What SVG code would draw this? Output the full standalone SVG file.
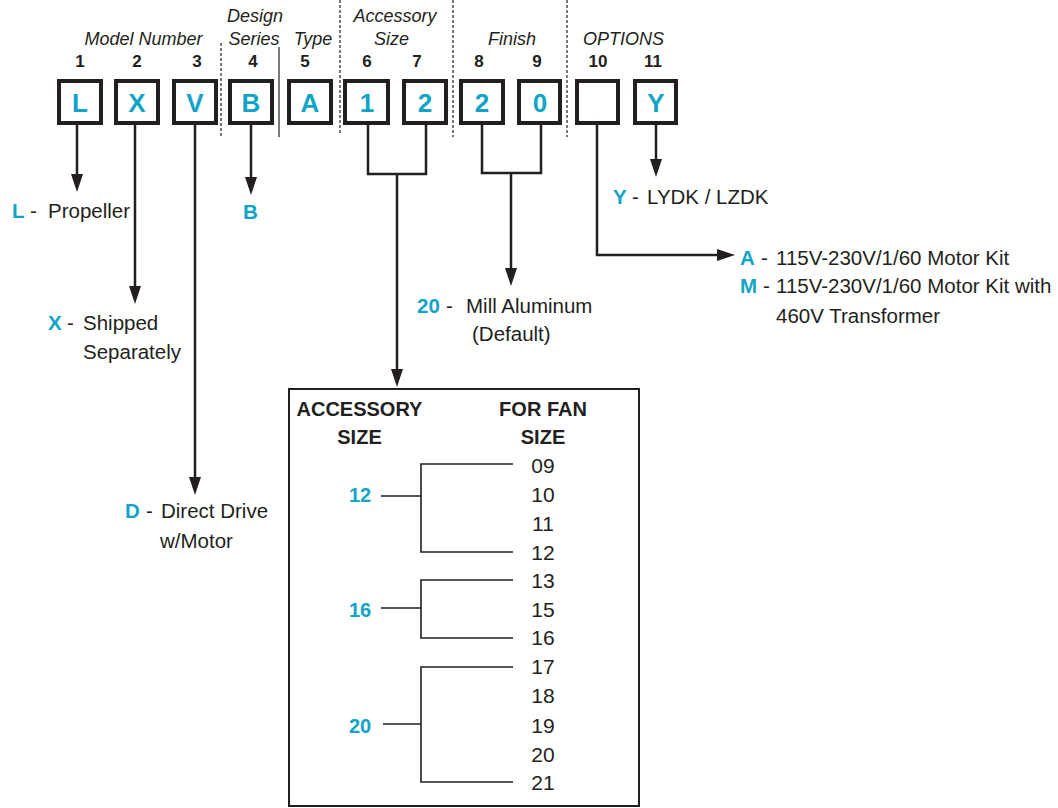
<svg xmlns="http://www.w3.org/2000/svg" width="1058" height="808" viewBox="0 0 1058 808">
<style>
text{font-family:"Liberation Sans",Arial,sans-serif;fill:#231f20}
.it{font-style:italic;font-size:18px;text-anchor:middle}
.num{font-weight:bold;font-size:17px;text-anchor:middle}
.box{fill:#fff;stroke:#231f20;stroke-width:4}
.bl{font-weight:bold;font-size:26px;fill:#12a4c6;text-anchor:middle}
.c{font-weight:bold;font-size:20.5px;fill:#12a4c6}
.t{font-size:20.5px}
.th{font-weight:bold;font-size:20px;text-anchor:middle}
.fn{font-size:21px;text-anchor:middle}
.cn{font-weight:bold;font-size:20px;fill:#12a4c6;text-anchor:middle}
.dash{stroke:#231f20;stroke-width:1.2;stroke-dasharray:3 2;fill:none}
.conn{stroke:#231f20;stroke-width:2.5;fill:none}
.br{stroke:#231f20;stroke-width:1.6;fill:none}
</style>
<defs>
<marker id="ah" markerUnits="userSpaceOnUse" viewBox="0 0 18 12" refX="8" refY="6" markerWidth="18" markerHeight="12" orient="auto">
<path d="M0,0 L18,6 L0,12 z" fill="#231f20"/>
</marker>
</defs>
<rect width="1058" height="808" fill="#fff"/>

<g id="headers">
<text class="it" x="143.5" y="45">Model Number</text>
<text class="it" x="255" y="22">Design</text>
<text class="it" x="254" y="45">Series</text>
<text class="it" x="313" y="45">Type</text>
<text class="it" x="395" y="22">Accessory</text>
<text class="it" x="391.5" y="45">Size</text>
<text class="it" x="512" y="45">Finish</text>
<text class="it" x="623.5" y="45">OPTIONS</text>
<path class="dash" d="M221,43 V137 M340,0 V133 M453,0 V137 M567,0 V137"/>
<path d="M279,47 V137" stroke="#231f20" stroke-width="1.2"/>
</g>

<g id="positions">
<text class="num" x="80" y="67">1</text>
<text class="num" x="137" y="67">2</text>
<text class="num" x="197" y="67">3</text>
<text class="num" x="253" y="67">4</text>
<text class="num" x="305" y="67">5</text>
<text class="num" x="367" y="67">6</text>
<text class="num" x="417" y="67">7</text>
<text class="num" x="479" y="67">8</text>
<text class="num" x="537" y="67">9</text>
<text class="num" x="598" y="67">10</text>
<text class="num" x="653" y="67">11</text>
</g>

<g id="box-1"><rect class="box" x="59" y="81" width="42" height="42"/><text class="bl" x="80" y="112">L</text></g>
<g id="box-2"><rect class="box" x="116" y="81" width="42" height="42"/><text class="bl" x="137" y="112">X</text></g>
<g id="box-3"><rect class="box" x="174" y="81" width="42" height="42"/><text class="bl" x="195" y="112">V</text></g>
<g id="box-4"><rect class="box" x="230" y="81" width="42" height="42"/><text class="bl" x="251" y="112">B</text></g>
<g id="box-5"><rect class="box" x="289" y="81" width="42" height="42"/><text class="bl" x="310" y="112">A</text></g>
<g id="box-6"><rect class="box" x="345" y="81" width="43" height="42"/><text class="bl" x="367" y="112">1</text></g>
<g id="box-7"><rect class="box" x="404" y="81" width="42" height="42"/><text class="bl" x="425" y="112">2</text></g>
<g id="box-8"><rect class="box" x="461" y="81" width="42" height="42"/><text class="bl" x="482" y="112">2</text></g>
<g id="box-9"><rect class="box" x="519" y="81" width="41" height="42"/><text class="bl" x="540" y="112">0</text></g>
<g id="box-10"><rect class="box" x="577" y="81" width="41" height="42"/></g>
<g id="box-11"><rect class="box" x="635" y="81" width="41" height="42"/><text class="bl" x="656" y="112">Y</text></g>

<g id="connectors">
<path class="conn" d="M77,125 V182" marker-end="url(#ah)"/>
<path class="conn" d="M135,125 V294" marker-end="url(#ah)"/>
<path class="conn" d="M195,125 V485" marker-end="url(#ah)"/>
<path class="conn" d="M251,125 V185" marker-end="url(#ah)"/>
<path class="conn" d="M368,125 V174 H426 V125"/>
<path class="conn" d="M397,174 V377" marker-end="url(#ah)"/>
<path class="conn" d="M482,125 V173 H541 V125"/>
<path class="conn" d="M511,173 V276" marker-end="url(#ah)"/>
<path class="conn" d="M656,125 V167" marker-end="url(#ah)"/>
<path class="conn" d="M597,125 V255 H725" marker-end="url(#ah)"/>
</g>

<g id="desc-L"><text class="c" x="12" y="218">L</text><text class="t" x="30" y="218">-</text><text class="t" x="48" y="218">Propeller</text></g>
<g id="desc-B"><text class="c" x="243" y="219">B</text></g>
<g id="desc-X"><text class="c" x="48" y="330">X</text><text class="t" x="67" y="330">-</text><text class="t" x="83" y="330">Shipped</text><text class="t" x="83" y="359">Separately</text></g>
<g id="desc-D"><text class="c" x="125" y="518">D</text><text class="t" x="146" y="518">-</text><text class="t" x="161" y="518">Direct Drive</text><text class="t" x="160" y="548">w/Motor</text></g>
<g id="desc-20"><text class="c" x="417" y="313">20</text><text class="t" x="446" y="313">-</text><text class="t" x="466" y="313">Mill Aluminum</text><text class="t" x="472" y="341">(Default)</text></g>
<g id="desc-Y"><text class="c" x="613" y="204">Y</text><text class="t" x="632" y="204">-</text><text class="t" x="647" y="204">LYDK / LZDK</text></g>
<g id="desc-options">
<text class="c" x="740" y="265">A</text><text class="t" x="761" y="265">-</text><text class="t" x="776" y="265">115V-230V/1/60 Motor Kit</text>
<text class="c" x="740" y="293">M</text><text class="t" x="763" y="293">-</text><text class="t" x="776" y="293">115V-230V/1/60 Motor Kit with</text>
<text class="t" x="776" y="323">460V Transformer</text>
</g>

<g id="table">
<rect x="289" y="389" width="350" height="417" fill="none" stroke="#231f20" stroke-width="2"/>
<text class="th" x="359.5" y="416">ACCESSORY</text>
<text class="th" x="359.5" y="444">SIZE</text>
<text class="th" x="543" y="416">FOR FAN</text>
<text class="th" x="543" y="444">SIZE</text>
<text class="fn" x="543" y="473">09</text>
<text class="fn" x="543" y="502">10</text>
<text class="fn" x="543" y="531">11</text>
<text class="fn" x="543" y="560">12</text>
<text class="fn" x="543" y="588">13</text>
<text class="fn" x="543" y="617">15</text>
<text class="fn" x="543" y="645">16</text>
<text class="fn" x="543" y="674">17</text>
<text class="fn" x="543" y="703">18</text>
<text class="fn" x="543" y="733">19</text>
<text class="fn" x="543" y="762">20</text>
<text class="fn" x="543" y="790">21</text>
<text class="cn" x="360" y="502">12</text>
<text class="cn" x="360" y="617">16</text>
<text class="cn" x="360" y="733">20</text>
<path class="br" d="M381,496 H421 M513,464 H421 V552 H513"/>
<path class="br" d="M381,608 H421 M513,580 H421 V638 H513"/>
<path class="br" d="M383,724 H421 M513,667 H421 V782 H513"/>
</g>
</svg>
